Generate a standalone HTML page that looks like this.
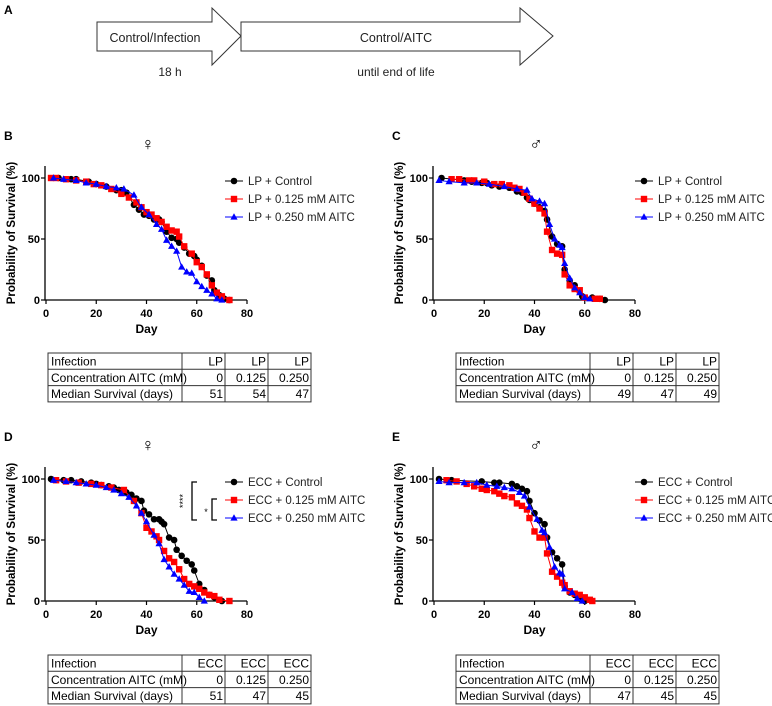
<!DOCTYPE html>
<html><head><meta charset="utf-8"><style>
body{margin:0;background:#fff;}
svg{display:block;font-family:"Liberation Sans",Arial,sans-serif;}
.tb{font-family:"Liberation Sans",sans-serif;font-size:12px;}
</style></head><body>
<svg id="fig" width="772" height="706" viewBox="0 0 772 706">
<g>
<text x="4" y="14" font-size="12" font-weight="bold">A</text>
<polygon points="97,22 212,22 212,8 241,36 212,65 212,51 97,51" fill="#fff" stroke="#333" stroke-width="1"/>
<polygon points="241,22 520,22 520,8 553,36 520,65 520,51 241,51" fill="#fff" stroke="#333" stroke-width="1"/>
<text x="155" y="42" font-size="12.5" text-anchor="middle" fill="#222">Control/Infection</text>
<text x="170" y="76" font-size="12" text-anchor="middle" fill="#222">18 h</text>
<text x="396" y="42" font-size="12.5" text-anchor="middle" fill="#222">Control/AITC</text>
<text x="396" y="76" font-size="12" text-anchor="middle" fill="#222">until end of life</text>
</g>
</svg>
<script>
const bCtrl=[[5,100],[10,99],[12,99],[17,97],[20,95],[24,93],[28,90],[30,90],[32,88],[35,78],[37,74],[39,70],[41,69],[43,66],[45,66],[46,64],[48,56],[50,51],[52,50],[53,47],[55,43],[57,38],[59,36],[60,33],[62,28],[64,20],[66,16],[67,8],[69,4],[71,1],[73,0]];
const bLow=[[2,100],[4,100],[8,99],[12,98],[16,97],[19,95],[22,94],[26,91],[30,87],[33,84],[36,80],[38,76],[40,72],[42,70],[44,67],[46,64],[48,60],[50,57],[52,56],[53,52],[55,44],[58,38],[60,31],[62,27],[64,21],[66,12],[68,6],[70,3],[73,0]];
const bHigh=[[3,100],[7,99],[12,98],[16,96],[20,95],[24,93],[28,92],[31,91],[35,86],[38,76],[41,70],[44,62],[46,58],[48,49],[50,44],[52,40],[54,27],[56,23],[58,22],[60,15],[62,11],[64,8],[66,5],[68,1],[70,0]];
const cCtrl=[[3,100],[12,98],[15,97],[19,96],[21,96],[23,94],[26,93],[30,92],[33,89],[35,88],[37,84],[38,82],[40,79],[42,76],[44,73],[45,66],[47,52],[49,46],[51,44],[52,25],[54,16],[56,12],[59,3],[63,2],[66,1],[68,0]];
const cLow=[[7,99],[10,99],[14,98],[16,98],[20,97],[24,95],[27,95],[30,94],[32,92],[34,91],[36,88],[38,83],[40,79],[42,75],[44,71],[45,56],[47,41],[49,38],[51,37],[52,21],[54,12],[56,9],[58,8],[60,2],[64,1],[66,1]];
const cHigh=[[2,98],[6,97],[12,96],[17,96],[22,95],[28,93],[33,91],[37,90],[39,83],[42,81],[44,79],[46,62],[48,50],[50,45],[51,43],[52,30],[54,18],[56,10],[58,6],[60,2],[62,1]];
const dCtrl=[[2,100],[7,99],[10,99],[14,98],[18,97],[20,96],[22,95],[25,94],[27,93],[29,91],[32,89],[34,87],[36,84],[38,82],[39,74],[41,71],[43,67],[45,67],[46,65],[47,63],[49,52],[51,50],[52,42],[54,37],[56,33],[58,30],[59,25],[61,14],[63,9],[65,5],[67,3],[70,0]];
const dLow=[[4,99],[8,98],[13,97],[18,96],[22,95],[26,93],[31,91],[35,82],[38,72],[40,60],[42,57],[44,53],[45,50],[47,41],[49,35],[51,32],[53,26],[55,18],[57,14],[59,12],[61,10],[63,7],[65,5],[67,4],[69,1],[73,0]];
const dHigh=[[3,99],[8,98],[12,97],[16,96],[20,95],[24,93],[27,91],[30,88],[33,85],[36,78],[38,72],[40,65],[43,54],[45,47],[47,34],[49,28],[51,22],[53,18],[55,13],[57,8],[59,7],[61,3],[63,0]];
const eCtrl=[[2,100],[7,99],[19,98],[24,97],[26,97],[31,96],[33,94],[35,92],[37,90],[38,82],[40,72],[42,66],[44,63],[45,52],[47,40],[49,35],[51,30],[52,12],[54,7],[56,5],[58,2],[59,1],[60,0]];
const eLow=[[5,99],[9,98],[13,96],[16,94],[19,92],[21,91],[24,90],[26,88],[28,86],[31,85],[33,80],[35,78],[37,75],[38,68],[40,57],[42,52],[44,52],[45,39],[47,24],[49,20],[51,15],[52,13],[54,8],[56,6],[58,5],[60,3],[62,1],[63,0]];
const eHigh=[[2,98],[6,97],[12,97],[17,97],[21,95],[25,94],[28,93],[31,92],[34,89],[36,86],[38,77],[41,67],[43,58],[44,56],[46,44],[48,28],[50,23],[51,22],[52,10],[55,7],[57,2],[59,0]];
const xTicks=[0,20,40,60,80];
const yTicks=[0,50,100];
const tableRowLabels=["Infection","Concentration AITC (mM)","Median Survival (days)"];
const concs=["0","0.125","0.250"];
const medB=["51","54","47"],medC=["49","47","49"],medD=["51","47","45"],medE=["47","45","45"];

const NS="http://www.w3.org/2000/svg";
const svg=document.getElementById('fig');
function mk(tag,attrs,parent,text){const e=document.createElementNS(NS,tag);for(const k in attrs)e.setAttribute(k,attrs[k]);if(text!==undefined)e.textContent=text;(parent||svg).appendChild(e);return e;}

function panel(cfg){
  const g=mk('g',{});
  
  
  const X0=cfg.ox+46, xs=v=>X0+v*201/80, ys=v=>cfg.y0-v*(cfg.y0-cfg.y100)/100;
  const t1=mk('text',{x:cfg.ox+4,y:cfg.y100-38,'font-size':12,'font-weight':'bold'},g,cfg.id.toUpperCase());
  
  
  const t2=mk('text',{x:cfg.ox+148,y:cfg.y100-28,'font-size':18,'text-anchor':'middle'},g,cfg.sym);
  
  
  const ax=mk('path',{d:`M${X0-1},${ys(100)-12}V${cfg.y0}H${xs(80)}`,stroke:'#000','stroke-width':1.3,fill:'none'},g);
  
  
  xTicks.forEach(v=>{
    mk('line',{x1:xs(v),x2:xs(v),y1:cfg.y0,y2:cfg.y0+4,stroke:'#000','stroke-width':1.2},g);
    const t=mk('text',{x:xs(v),y:cfg.y0+17,'font-size':11,'font-weight':'bold','text-anchor':'middle'},g,v);
    
    
  });
  yTicks.forEach(v=>{
    mk('line',{x1:X0-5,x2:X0-1,y1:ys(v),y2:ys(v),stroke:'#000','stroke-width':1.2},g);
    const t=mk('text',{x:X0-6,y:ys(v)+4,'font-size':11,'font-weight':'bold','text-anchor':'end'},g,v);
    
    
  });
  const xt=mk('text',{x:xs(40),y:cfg.y0+33,'font-size':12,'font-weight':'bold','text-anchor':'middle'},g,'Day');
  
  
  const cy=(cfg.y0+cfg.y100)/2-6;
  const yt=mk('text',{x:0,y:0,'font-size':11.5,'font-weight':'bold','text-anchor':'middle',transform:`translate(${cfg.ox+15},${cy}) rotate(-90)`},g,'Probability of Survival (%)');
  
  
  const cols=['#000','#f00','#00f'], shapes=['c','s','t'];
  cfg.series.forEach((s,i)=>{
    const sg=mk('g',{},g);
    
    
    mk('polyline',{points:s.map(p=>xs(p[0])+','+ys(p[1])).join(' '),fill:'none',stroke:cols[i],'stroke-width':1},sg);
    s.forEach(p=>marker(sg,shapes[i],xs(p[0]),ys(p[1]),cols[i]));
  });
  const lx=cfg.ox+cfg.lx;
  cfg.names.forEach((n,i)=>{
    const y=cfg.ly+i*18;
    const lg=mk('g',{},g);
    
    
    mk('line',{x1:lx,x2:lx+18,y1:y,y2:y,stroke:cols[i],'stroke-width':1},lg);
    marker(lg,shapes[i],lx+9,y,cols[i]);
    mk('text',{x:lx+23,y:y+4,'font-size':11.5,fill:'#222'},lg,n);
  });
  const tx=cfg.ox+cfg.tx, ty=cfg.ty, cw=[134,43,43,43], rh=16.3;
  const tg=mk('g',{},g);
  
  
  const W=cw.reduce((a,b)=>a+b,0);
  mk('rect',{x:tx,y:ty,width:W,height:rh*3,fill:'none',stroke:'#333','stroke-width':1},tg);
  for(let r=1;r<3;r++)mk('line',{x1:tx,x2:tx+W,y1:ty+r*rh,y2:ty+r*rh,stroke:'#333'},tg);
  let cx=tx;for(let c=0;c<3;c++){cx+=cw[c];mk('line',{x1:cx,x2:cx,y1:ty,y2:ty+rh*3,stroke:'#333'},tg);}
  const rows=[[cfg.inf,cfg.inf,cfg.inf],concs,cfg.med];
  rows.forEach((row,r)=>{
    const y=ty+r*rh+12.5;
    mk('text',{x:tx+3,y:y,'font-size':11.5,class:'tb'},tg,tableRowLabels[r]);
    let x=tx+cw[0];
    row.forEach((v,c)=>{x+=cw[c+1];mk('text',{x:x-2,y:y,'font-size':11.5,'text-anchor':'end',class:'tb'},tg,v);});
  });
  if(cfg.sig){
    const sg=mk('g',{},g);
    
    
    const b=cfg.ly;
    mk('path',{d:`M${lx-28},${b}H${lx-33}V${b+38}H${lx-28}`,fill:'none',stroke:'#000','stroke-width':1.3},sg);
    mk('path',{d:`M${lx-8},${b+17}H${lx-13}V${b+38}H${lx-8}`,fill:'none',stroke:'#000','stroke-width':1.3},sg);
    mk('text',{x:0,y:0,'font-size':9,'text-anchor':'middle',transform:`translate(${lx-39},${b+19}) rotate(-90)`},sg,'****');
    mk('text',{x:lx-19,y:b+33,'font-size':9,'text-anchor':'middle'},sg,'*');
  }
}
function marker(g,sh,x,y,c){
  if(sh==='c')mk('circle',{cx:x,cy:y,r:3.3,fill:c},g);
  else if(sh==='s')mk('rect',{x:x-3.2,y:y-3.2,width:6.4,height:6.4,fill:c},g);
  else mk('polygon',{points:`${x},${y-3.8} ${x+3.6},${y+2.6} ${x-3.6},${y+2.6}`,fill:c},g);
}
const lpN=['LP + Control','LP + 0.125 mM AITC','LP + 0.250 mM AITC'];
const ecN=['ECC + Control','ECC + 0.125 mM AITC','ECC + 0.250 mM AITC'];
panel({id:'b',sym:'♀',ox:0,y100:178,y0:300,series:[bCtrl,bLow,bHigh],names:lpN,lx:225,ly:181,tx:48,ty:353,inf:'LP',med:medB});
panel({id:'c',sym:'♂',ox:388,y100:178,y0:300,series:[cCtrl,cLow,cHigh],names:lpN,lx:247,ly:181,tx:68,ty:353,inf:'LP',med:medC});
panel({id:'d',sym:'♀',ox:0,y100:479,y0:601,series:[dCtrl,dLow,dHigh],names:ecN,lx:225,ly:482,tx:48,ty:655,inf:'ECC',med:medD,sig:true});
panel({id:'e',sym:'♂',ox:388,y100:479,y0:601,series:[eCtrl,eLow,eHigh],names:ecN,lx:247,ly:482,tx:68,ty:655,inf:'ECC',med:medE});
</script>
</body></html>
